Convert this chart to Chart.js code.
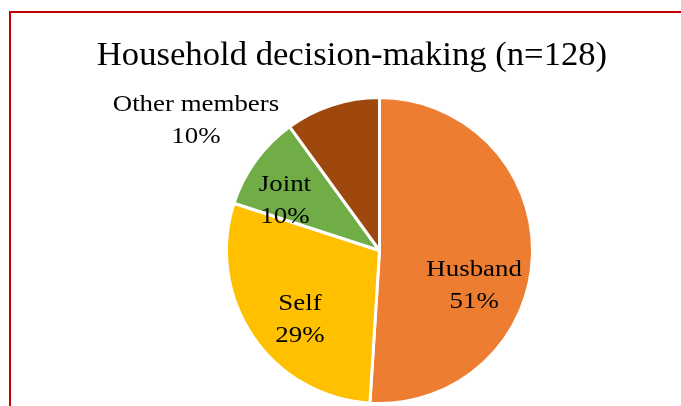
<!DOCTYPE html>
<html>
<head>
<meta charset="utf-8">
<script src="https://cdn.jsdelivr.net/npm/chart.js@4.4.1/dist/chart.umd.min.js"></script>
<style>
  html, body { margin: 0; padding: 0; background: #fff; overflow: hidden; }
  #frame {
    position: absolute; left: 9px; top: 11px; width: 800px; height: 500px;
    border-top: 2px solid #c00000; border-left: 2px solid #c00000;
  }
  #chart { position: absolute; left: 0; top: 0; }
</style>
</head>
<body>
<div id="frame"></div>
<canvas id="chart" width="681" height="406"></canvas>
<script>
// Household decision-making shares (n=128)
const categories = ['Husband', 'Self', 'Joint', 'Other members'];
const shares = [51, 29, 10, 10];
const sliceColors = ['#ED7D31', '#FFC000', '#70AD47', '#9E480E'];
const titleText = 'Household decision-making (n=128)';

// Label placement per slice: radius as a fraction of the pie radius,
// and angular shift (degrees) from the slice's middle angle.
const labelRadius = [0.66, 0.69, 0.70, 1.47];
const labelShift = [18.6, -6.9, -8, -36.7];

const serif = '"Liberation Serif", "Times New Roman", serif';

// Draw text with a slight horizontal widening to mimic a broad book face
function wideText(ctx, text, x, y, sx) {
  ctx.save();
  ctx.translate(x, y);
  ctx.scale(sx, 1);
  ctx.fillText(text, 0, 0);
  ctx.restore();
}

const labelPlugin = {
  id: 'sliceLabels',
  afterDatasetsDraw(chart) {
    const ctx = chart.ctx;
    const meta = chart.getDatasetMeta(0);
    ctx.save();
    ctx.fillStyle = '#000';
    ctx.textAlign = 'center';
    ctx.textBaseline = 'middle';
    ctx.font = '24px ' + serif;
    meta.data.forEach((arc, i) => {
      const p = arc.getProps(['x', 'y', 'startAngle', 'endAngle', 'outerRadius'], true);
      const mid = (p.startAngle + p.endAngle) / 2 + labelShift[i] * Math.PI / 180;
      const r = p.outerRadius * labelRadius[i];
      const cx = p.x + Math.cos(mid) * r;
      const cy = p.y + Math.sin(mid) * r;
      wideText(ctx, categories[i], cx, cy - 16, 1.12);
      wideText(ctx, shares[i] + '%', cx, cy + 16, 1.12);
    });
    ctx.restore();
  }
};

const titlePlugin = {
  id: 'chartHeading',
  afterDraw(chart) {
    const ctx = chart.ctx;
    ctx.save();
    ctx.fillStyle = '#000';
    ctx.textAlign = 'center';
    ctx.textBaseline = 'alphabetic';
    ctx.font = '33px ' + serif;
    wideText(ctx, titleText, 352, 65, 1.05);
    ctx.restore();
  }
};

new Chart(document.getElementById('chart'), {
  type: 'pie',
  data: {
    labels: categories,
    datasets: [{
      data: shares,
      backgroundColor: sliceColors,
      borderColor: '#ffffff',
      borderWidth: 3
    }]
  },
  options: {
    responsive: false,
    animation: false,
    layout: { padding: { top: 96, bottom: 1, left: 100, right: 22 } },
    plugins: {
      legend: { display: false },
      title: { display: false },
      tooltip: { enabled: false }
    }
  },
  plugins: [labelPlugin, titlePlugin]
});
</script>
</body>
</html>
